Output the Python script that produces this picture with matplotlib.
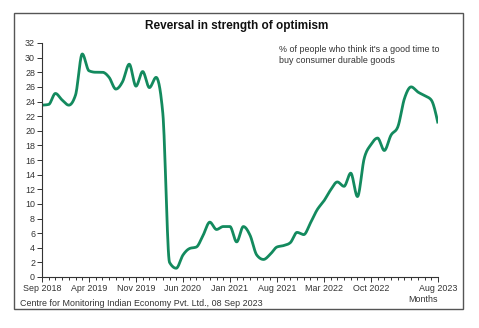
import numpy as np
import matplotlib
matplotlib.use("Agg")
import matplotlib.pyplot as plt
from matplotlib.patches import Rectangle
from matplotlib.ticker import MultipleLocator, FixedLocator

# Monthly series: Sep 2018 .. Aug 2023
months = ["Sep 2018", "Oct 2018", "Nov 2018", "Dec 2018", "Jan 2019", "Feb 2019",
          "Mar 2019", "Apr 2019", "May 2019", "Jun 2019", "Jul 2019", "Aug 2019",
          "Sep 2019", "Oct 2019", "Nov 2019", "Dec 2019", "Jan 2020", "Feb 2020",
          "Mar 2020", "Apr 2020", "May 2020", "Jun 2020", "Jul 2020", "Aug 2020",
          "Sep 2020", "Oct 2020", "Nov 2020", "Dec 2020", "Jan 2021", "Feb 2021",
          "Mar 2021", "Apr 2021", "May 2021", "Jun 2021", "Jul 2021", "Aug 2021",
          "Sep 2021", "Oct 2021", "Nov 2021", "Dec 2021", "Jan 2022", "Feb 2022",
          "Mar 2022", "Apr 2022", "May 2022", "Jun 2022", "Jul 2022", "Aug 2022",
          "Sep 2022", "Oct 2022", "Nov 2022", "Dec 2022", "Jan 2023", "Feb 2023",
          "Mar 2023", "Apr 2023", "May 2023", "Jun 2023", "Jul 2023", "Aug 2023"]
values = [23.5, 23.6, 25.1, 24.2, 23.5, 24.9,
          30.5, 28.2, 28.0, 28.0, 27.3, 25.7,
          26.7, 29.1, 26.1, 28.1, 25.9, 27.3,
          22.4, 2.0, 1.2, 3.0, 3.9, 4.1,
          5.7, 7.5, 6.5, 6.9, 6.9, 4.8,
          6.9, 5.7, 3.0, 2.4, 3.1, 4.1,
          4.3, 4.7, 6.1, 5.8, 7.4, 9.2,
          10.4, 11.9, 13.0, 12.4, 14.2, 11.0,
          16.2, 18.1, 19.0, 17.3, 19.4, 20.5,
          24.4, 26.0, 25.3, 24.8, 24.2, 21.0]
tick_labels = ["Sep 2018", "Apr 2019", "Nov 2019", "Jun 2020", "Jan 2021",
               "Aug 2021", "Mar 2022", "Oct 2022", "Aug 2023"]

title = "Reversal in strength of optimism"
note = "% of people who think it's a good time to\nbuy consumer durable goods"
source = "Centre for Monitoring Indian Economy Pvt. Ltd., 08 Sep 2023"

plt.rcParams['font.family'] = ['Liberation Sans', 'DejaVu Sans']

W, H = 479, 328
fig = plt.figure(figsize=(W / 100, H / 100), dpi=100)
fig.patch.set_facecolor("white")

def fx(px):
    return px / W

def fy(py):
    return 1 - py / H

# outer frame
fig.patches.append(Rectangle((fx(14), fy(309)), fx(463) - fx(14), fy(13) - fy(309),
                             transform=fig.transFigure, fill=False,
                             edgecolor="#555555", linewidth=1.0))

ax = fig.add_axes([fx(42), fy(277), fx(438) - fx(42), fy(43) - fy(277)])
ax.set_facecolor("white")

x = np.arange(len(values), dtype=float)
y = np.array(values, dtype=float)

# Monotone cubic (like d3.curveMonotoneX) for the rendered line
def monotone(xs, ys, n=16):
    h = np.diff(xs)
    s = np.diff(ys) / h
    m = np.zeros_like(ys)
    for i in range(1, len(xs) - 1):
        p = (s[i - 1] * h[i] + s[i] * h[i - 1]) / (h[i - 1] + h[i])
        m[i] = (np.sign(s[i - 1]) + np.sign(s[i])) * min(abs(s[i - 1]), abs(s[i]), 0.5 * abs(p))
    m[0] = (3 * s[0] - m[1]) / 2
    m[-1] = (3 * s[-1] - m[-2]) / 2
    ox, oy = [], []
    t = np.linspace(0, 1, n, endpoint=False)
    for i in range(len(xs) - 1):
        h00 = 2 * t ** 3 - 3 * t ** 2 + 1
        h10 = t ** 3 - 2 * t ** 2 + t
        h01 = -2 * t ** 3 + 3 * t ** 2
        h11 = t ** 3 - t ** 2
        ox.extend(xs[i] + t * h[i])
        oy.extend(h00 * ys[i] + h10 * h[i] * m[i] + h01 * ys[i + 1] + h11 * h[i] * m[i + 1])
    ox.append(xs[-1]); oy.append(ys[-1])
    return np.array(ox), np.array(oy)

sx, sy = monotone(x, y)
ax.plot(sx, sy, color="#138a5e", linewidth=2.0, solid_capstyle="butt")

ax.set_xlim(0, len(values) - 1)
ax.set_ylim(0, 32)

tick_pos = [months.index(t) for t in tick_labels]
ax.xaxis.set_major_locator(FixedLocator(tick_pos))
ax.set_xticklabels(tick_labels)
ax.xaxis.set_minor_locator(MultipleLocator(1))
ax.yaxis.set_major_locator(MultipleLocator(2))

for s in ["top", "right"]:
    ax.spines[s].set_visible(False)
for s in ["left", "bottom"]:
    ax.spines[s].set_color("#333333")
    ax.spines[s].set_linewidth(0.8)

ax.tick_params(axis="both", which="major", labelsize=6.4, colors="#333333",
               length=3.5, width=0.7, pad=1.5)
ax.tick_params(axis="x", which="minor", length=2.5, width=0.7, color="#333333")
ax.tick_params(axis="x", which="major", pad=1.5)

fig.text(fx(237), fy(26), title, ha="center", va="center",
         fontsize=8.5, fontweight="bold", color="#111111")
fig.text(fx(279), fy(55), note, ha="left", va="center", fontsize=6.4,
         color="#333333", linespacing=1.2)
fig.text(fx(20), fy(303), source, ha="left", va="center", fontsize=6.4,
         color="#333333")
fig.text(fx(423), fy(299), "Months", ha="center", va="center", fontsize=6.4,
         color="#333333")

fig.savefig("out.png", dpi=100)
